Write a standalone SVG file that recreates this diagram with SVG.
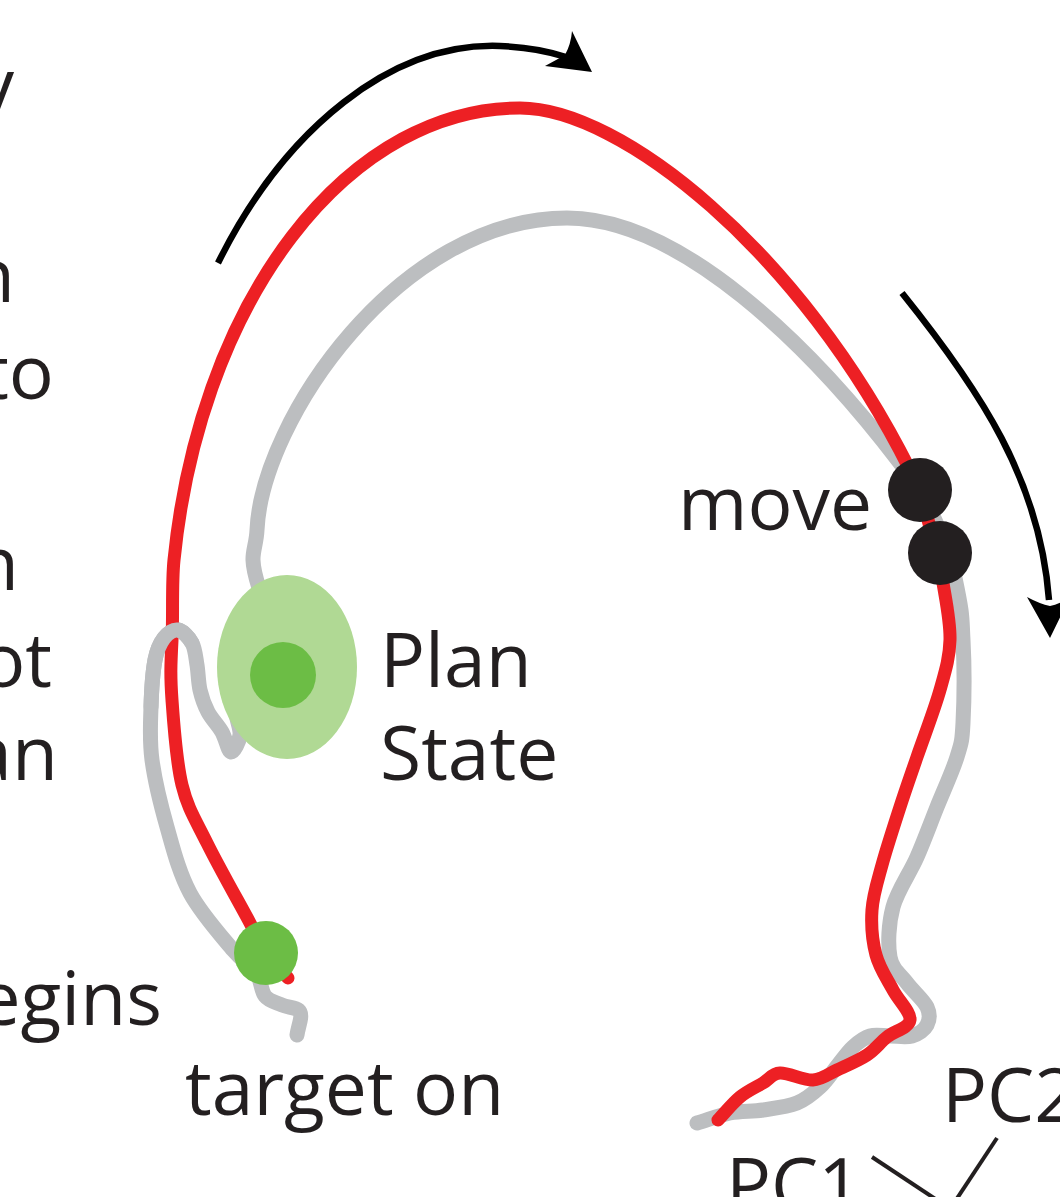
<svg xmlns="http://www.w3.org/2000/svg" width="1060" height="1197" viewBox="0 0 1060 1197">
<style>
text{font-family:"Open Sans","Liberation Sans",sans-serif;font-size:75px;fill:#231f20}
.tr{fill:none;stroke-linecap:round;stroke-linejoin:round}
.red{stroke:#ed2024;stroke-width:13}
.gray{stroke:#bcbec0;stroke-width:15}
.arr{fill:none;stroke:#000;stroke-width:6.5}
.ax{stroke:#231f20;stroke-width:4}
.dot{fill:#231f20}
</style>
<g id="connectors">
<path id="gray-trajectory" class="tr gray" d="M297,1035 C298,1027.3 302.5,1017 300,1012 S287.8,1007.7 282,1005 S269.3,1001.5 265,996 S261.3,979.7 256,972 S244,963.2 233,950 S201,913.5 190,893 S173.3,849.2 167,827 S154.7,780 152,760 S150.5,723.7 151,707 S152.8,671.5 155,660 S160.2,643 164,638 S173.3,629.2 178,630 S188.8,637.2 192,643 S195.7,657.2 197,665 S198.2,682.2 200,690 S204.3,705 208,712 S218.2,725.3 222,732 S228,751.5 231,752 S239.2,741.7 240,735 S236,719 236,712 S236.3,698.3 240,693 S252.2,685.2 258,680 S273,669 275,662 S270.8,646.2 270,638 S271.8,621.3 270,613 S261.8,596.8 259,588 S253.3,569.7 253,560 S256.4,543.3 257,530 C262,420 400,218 567,218 C680,218 810,345 900,463 C927,498 947,540 955,578 S961.7,615.8 963,640 S964,703.5 963,723 S961.3,743 957,757 S943.7,790.3 937,807 S924.3,840.3 917,857 S897.5,890.3 893,907 S887.7,944.3 890,957 S900.8,974.7 907,983 S923.7,1000 927,1007 S929.5,1020.2 927,1025 S918.2,1034.2 912,1036 S897,1036 890,1036 S876.2,1034.2 870,1036 S858.3,1042.2 853,1047 S843.5,1058.3 838,1065 S826.8,1080.7 820,1087 S806.5,1099.2 797,1103 S774.2,1108.3 763,1110 S741,1110.8 730,1113 S708,1119.7 697,1123"/>
<path id="red-trajectory" class="tr red" d="M288,978 C280.3,969.3 271.3,961.2 265,952 S259.7,941.2 250,923 S218.3,866 207,843 S187.8,808.8 182,785 S173.7,724.2 172,700 S170.7,665.5 172,640 C173.3,614.5 171.5,584.9 174,560 A350,532 0 0 1 520,108 C620,108 800,250 910,470 C925,500 939.7,563 943,583 S950.5,622.2 950,640 S945.5,670.5 940,690 S923.7,737.5 917,757 S905.8,789 900,807 S886.7,847.8 882,865 S873,895 872,910 S872.5,941.7 876,955 S887.3,979.2 893,990 S911,1012.2 910,1020 S894.2,1031.2 887,1037 S875.3,1049.5 867,1055 S846,1065.8 837,1070 S822.5,1079.5 813,1080 S788.3,1072.5 780,1073 S769.7,1079 763,1083 S747.5,1090.8 740,1097 S725.3,1112.3 718,1120"/>
<path id="gray-hook" class="tr gray" d="M151,707 C151.5,690.3 152.8,671.5 155,660 S160.2,643 164,638 S173.3,629.2 178,630 S188.8,637.2 192,643"/>
<path id="arrow-top" class="arr" d="M218,263 C285,128 392,42 500,46 C528,47 548,51 566,57"/>
<path d="M572,31 L592,72 L545,66 Q558,59 565,55 Q571,44 572,31 Z" fill="#000"/>
<path id="arrow-right" class="arr" d="M902,293 C980,390 1040,480 1049,600"/>
<path d="M1050,638 L1027,597 Q1040,604 1050,606 Q1060,604 1070,597 Z" fill="#000"/>
<line class="ax" x1="872" y1="1157" x2="946" y2="1206"/>
<line class="ax" x1="997" y1="1138" x2="952" y2="1206"/>
</g>
<g id="plan-state">
<ellipse cx="287" cy="667" rx="70" ry="92" fill="#b0d994"/>
<circle cx="283" cy="675" r="33" fill="#6cbd45"/>
<text x="380" y="687">Plan</text>
<text x="380" y="780">State</text>
</g>
<g id="target-on">
<circle cx="266" cy="953" r="32" fill="#6cbd45"/>
<text x="185" y="1115">target on</text>
</g>
<g id="move">
<circle class="dot" cx="920" cy="490" r="32"/>
<circle class="dot" cx="940" cy="553" r="32"/>
<text x="678" y="530">move</text>
</g>
<g id="axes">
<text x="942" y="1122">PC2</text>
<text x="726" y="1212">PC1</text>
</g>
<g id="left-text" text-anchor="end">
<text x="14" y="112">y</text>
<text x="15" y="302">n</text>
<text x="54" y="399">to</text>
<text x="19" y="590">n</text>
<text x="52" y="687">ot</text>
<text x="58" y="780">an</text>
<text x="162" y="1025">egins</text>
</g>
</svg>
